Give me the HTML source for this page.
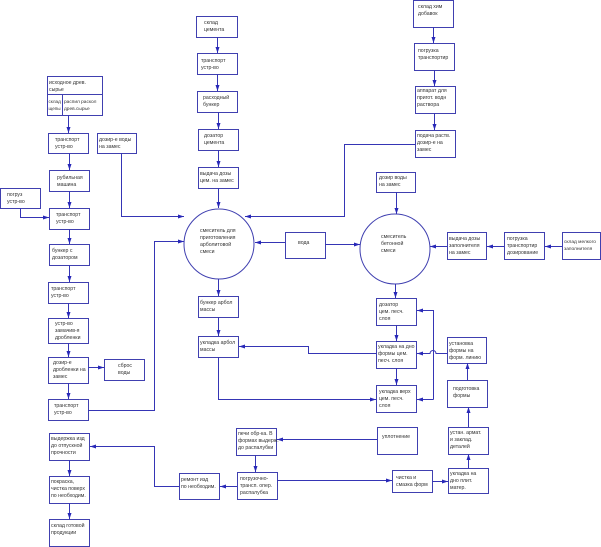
<!DOCTYPE html>
<html><head><meta charset="utf-8"><style>
html,body{margin:0;padding:0;background:#fff;}
svg{display:block;}
text{font-family:"Liberation Sans",sans-serif;font-size:5.2px;fill:#333;}
</style></head><body>
<svg width="601" height="547" viewBox="0 0 601 547" xmlns="http://www.w3.org/2000/svg">
<defs><marker id="a" markerWidth="6" markerHeight="4" refX="6" refY="2" orient="auto" markerUnits="userSpaceOnUse"><path d="M0,0 L6,2 L0,4 z" fill="#2828b8"/></marker></defs>
<g fill="none" stroke="#4040b0" stroke-width="1">
<rect x="196.5" y="16.5" width="41" height="21"/>
<rect x="197.5" y="53.5" width="40" height="21"/>
<rect x="197.5" y="91.5" width="40" height="21"/>
<rect x="198.5" y="129.5" width="40" height="21"/>
<rect x="198.5" y="167.5" width="40" height="21"/>
<rect x="47.5" y="76.5" width="55" height="39"/>
<line x1="47.5" y1="94.5" x2="102.5" y2="94.5"/>
<line x1="62.5" y1="94.5" x2="62.5" y2="115.5"/>
<rect x="48.5" y="133.5" width="40" height="20"/>
<rect x="97.5" y="133.5" width="39" height="20"/>
<rect x="49.5" y="170.5" width="40" height="21"/>
<rect x="0.5" y="188.5" width="40" height="20"/>
<rect x="49.5" y="208.5" width="40" height="21"/>
<rect x="49.5" y="244.5" width="40" height="21"/>
<rect x="48.5" y="282.5" width="40" height="21"/>
<rect x="48.5" y="318.5" width="40" height="25"/>
<rect x="48.5" y="357.5" width="40" height="26"/>
<rect x="104.5" y="359.5" width="40" height="21"/>
<rect x="48.5" y="399.5" width="40" height="21"/>
<rect x="49.5" y="433.5" width="40" height="27"/>
<rect x="49.5" y="476.5" width="40" height="27"/>
<rect x="49.5" y="519.5" width="40" height="27"/>
<rect x="179.5" y="473.5" width="40" height="26"/>
<rect x="237.5" y="472.5" width="40" height="27"/>
<rect x="236.5" y="428.5" width="40" height="27"/>
<circle cx="219" cy="244" r="35"/>
<rect x="285.5" y="232.5" width="40" height="26"/>
<circle cx="395" cy="249" r="35"/>
<rect x="376.5" y="172.5" width="39" height="20"/>
<rect x="447.5" y="232.5" width="39" height="27"/>
<rect x="504.5" y="232.5" width="40" height="27"/>
<rect x="562.5" y="232.5" width="38" height="27"/>
<rect x="198.5" y="296.5" width="40" height="21"/>
<rect x="198.5" y="336.5" width="40" height="21"/>
<rect x="376.5" y="298.5" width="40" height="27"/>
<rect x="376.5" y="341.5" width="40" height="27"/>
<rect x="447.5" y="337.5" width="39" height="26"/>
<rect x="376.5" y="385.5" width="40" height="27"/>
<rect x="447.5" y="380.5" width="40" height="27"/>
<rect x="377.5" y="427.5" width="40" height="27"/>
<rect x="448.5" y="427.5" width="40" height="27"/>
<rect x="392.5" y="470.5" width="40" height="22"/>
<rect x="448.5" y="468.5" width="40" height="25"/>
<rect x="413.5" y="0.5" width="40" height="27"/>
<rect x="414.5" y="43.5" width="40" height="27"/>
<rect x="415.5" y="86.5" width="40" height="27"/>
<rect x="415.5" y="130.5" width="40" height="27"/>
</g>
<g fill="none" stroke="#3535b5" stroke-width="1" marker-end="url(#a)">
<line x1="217.5" y1="37" x2="217.5" y2="53"/>
<line x1="217.5" y1="74" x2="217.5" y2="91"/>
<line x1="218.5" y1="112" x2="218.5" y2="129"/>
<line x1="218.5" y1="150" x2="218.5" y2="167"/>
<line x1="218.5" y1="188" x2="218.5" y2="208"/>
<polyline points="121.5,153 121.5,216.5 184,216.5"/>
<polyline points="415,144.5 344.5,144.5 344.5,216.5 245,216.5"/>
<line x1="285" y1="242.5" x2="255" y2="242.5"/>
<line x1="325" y1="244.5" x2="360" y2="244.5"/>
<polyline points="88,410.5 154.5,410.5 154.5,241.5 184,241.5"/>
<line x1="218.5" y1="279" x2="218.5" y2="296"/>
<line x1="218.5" y1="317" x2="218.5" y2="336"/>
<polyline points="218.5,357 218.5,399.5 376,399.5"/>
<polyline points="376,353.5 308.5,353.5 308.5,346.5 239,346.5"/>
<line x1="395.5" y1="284" x2="395.5" y2="298"/>
<line x1="396.5" y1="325" x2="396.5" y2="341"/>
<line x1="396.5" y1="368" x2="396.5" y2="385"/>
<line x1="396.5" y1="192" x2="396.5" y2="214"/>
<line x1="447" y1="246.5" x2="430" y2="246.5"/>
<line x1="504" y1="246.5" x2="487" y2="246.5"/>
<line x1="562" y1="246.5" x2="545" y2="246.5"/>
<path d="M447,353.5 L436,353.5 A3,3 0 0 0 430,353.5 L417,353.5"/>
<polyline points="433.5,399.5 433.5,310.5 417,310.5"/>
<line x1="433.5" y1="399.5" x2="417" y2="399.5"/>
<line x1="467.5" y1="380" x2="467.5" y2="363"/>
<line x1="468.5" y1="427" x2="468.5" y2="407"/>
<line x1="468.5" y1="468" x2="468.5" y2="454"/>
<line x1="432" y1="481.5" x2="448" y2="481.5"/>
<line x1="277" y1="480.5" x2="392" y2="480.5"/>
<line x1="377" y1="439.5" x2="277" y2="439.5"/>
<line x1="255.5" y1="455" x2="255.5" y2="472"/>
<line x1="237" y1="486.5" x2="220" y2="486.5"/>
<polyline points="179,486.5 154.5,486.5 154.5,446.5 90,446.5"/>
<line x1="69.5" y1="460" x2="69.5" y2="476"/>
<line x1="69.5" y1="503" x2="69.5" y2="519"/>
<line x1="68.5" y1="115" x2="68.5" y2="133"/>
<line x1="69.5" y1="153" x2="69.5" y2="170"/>
<line x1="69.5" y1="191" x2="69.5" y2="208"/>
<polyline points="20.5,208 20.5,217.5 49,217.5"/>
<line x1="69.5" y1="229" x2="69.5" y2="244"/>
<line x1="69.5" y1="265" x2="69.5" y2="282"/>
<line x1="68.5" y1="303" x2="68.5" y2="318"/>
<line x1="68.5" y1="343" x2="68.5" y2="357"/>
<line x1="88" y1="367.5" x2="104" y2="367.5"/>
<line x1="68.5" y1="383" x2="68.5" y2="399"/>
<line x1="433.5" y1="27" x2="433.5" y2="43"/>
<line x1="434.5" y1="70" x2="434.5" y2="86"/>
<line x1="434.5" y1="113" x2="434.5" y2="130"/>
</g>
<g>
<text x="204" y="24">склад</text><text x="204" y="31">цемента</text>
<text x="201" y="62">транспорт</text><text x="201" y="69">устр-во</text>
<text x="203" y="99">расходный</text><text x="203" y="106">бункер</text>
<text x="204" y="137">дозатор</text><text x="204" y="144">цемента</text>
<text x="200" y="175">выдача дозы</text><text x="200" y="182">цем. на замес</text>
<text x="49" y="84">исходное древ.</text><text x="49" y="91">сырье</text>
<text x="48.5" y="103" style="font-size:4.6px">склад</text><text x="48.5" y="110" style="font-size:4.6px">щепы</text>
<text x="64" y="103" style="font-size:4.8px">распил раскол</text><text x="64" y="110" style="font-size:4.8px">древ.сырье</text>
<text x="55" y="141">транспорт</text><text x="55" y="148">устр-во</text>
<text x="99" y="141">дозир-е воды</text><text x="99" y="148">на замес</text>
<text x="57" y="179">рубильная</text><text x="57" y="186">машина</text>
<text x="7" y="196">погруз</text><text x="7" y="203">устр-во</text>
<text x="56" y="216">транспорт</text><text x="56" y="223">устр-во</text>
<text x="52" y="252">бункер с</text><text x="52" y="259">дозатором</text>
<text x="51" y="290">транспорт</text><text x="51" y="297">устр-во</text>
<text x="55" y="325">устр-во</text><text x="55" y="332">замачив-я</text><text x="55" y="339">дробленки</text>
<text x="53" y="364">дозир-е</text><text x="53" y="371">дробленки на</text><text x="53" y="378">замес</text>
<text x="118" y="367">сброс</text><text x="118" y="374">воды</text>
<text x="54" y="407">транспорт</text><text x="54" y="414">устр-во</text>
<text x="51" y="440">выдержка изд</text><text x="51" y="447">до отпускной</text><text x="51" y="454">прочности</text>
<text x="51" y="483">покраска,</text><text x="51" y="490">чистка поверх</text><text x="51" y="497">по необходим.</text>
<text x="51" y="527">склад готовой</text><text x="51" y="534">продукции</text>
<text x="181" y="481">ремонт изд</text><text x="181" y="488">по необходим.</text>
<text x="240" y="480">погрузочно-</text><text x="240" y="487">трансп. опер.</text><text x="240" y="494">распалубка</text>
<text x="238" y="435">печи обр-ка. В</text><text x="238" y="442">формах выдерж.</text><text x="238" y="449">до распалубки</text>
<text x="200" y="232">смеситель для</text><text x="200" y="239">приготовления</text><text x="200" y="246">арболитовой</text><text x="200" y="253">смеси</text>
<text x="298" y="244">вода</text>
<text x="381" y="238">смеситель</text><text x="381" y="245">бетонной</text><text x="381" y="252">смеси</text>
<text x="379" y="179">дозир воды</text><text x="379" y="186">на замес</text>
<text x="449" y="240">выдача дозы</text><text x="449" y="247">заполнителя</text><text x="449" y="254">на замес</text>
<text x="507" y="240">погрузка</text><text x="507" y="247">транспортир</text><text x="507" y="254">дозирование</text>
<text x="564" y="243" style="font-size:4.8px">склад мелкого</text><text x="564" y="250" style="font-size:4.8px">заполнителя</text>
<text x="200" y="304">бункер арбол</text><text x="200" y="311">массы</text>
<text x="200" y="344">укладка арбол</text><text x="200" y="351">массы</text>
<text x="379" y="306">дозатор</text><text x="379" y="313">цем. песч.</text><text x="379" y="320">слоя</text>
<text x="378" y="348">укладка на дно</text><text x="378" y="355">формы цем.</text><text x="378" y="362">песч. слоя</text>
<text x="449" y="345">установка</text><text x="449" y="352">формы на</text><text x="449" y="359">форм. линию</text>
<text x="379" y="393">укладка верх</text><text x="379" y="400">цем. песч.</text><text x="379" y="407">слоя</text>
<text x="453" y="390">подготовка</text><text x="453" y="397">формы</text>
<text x="382" y="438">уплотнение</text>
<text x="450" y="434">устан. армат.</text><text x="450" y="441">и заклад.</text><text x="450" y="448">деталей</text>
<text x="396" y="479">чистка и</text><text x="396" y="486">смазка форм</text>
<text x="450" y="475">укладка на</text><text x="450" y="482">дно плит.</text><text x="450" y="489">матер.</text>
<text x="418" y="8">склад хим</text><text x="418" y="15">добавок</text>
<text x="418" y="52">погрузка</text><text x="418" y="59">транспортир</text>
<text x="417" y="92">аппарат для</text><text x="417" y="99">пригот. водн</text><text x="417" y="106">раствора</text>
<text x="417" y="137">подача раств.</text><text x="417" y="144">дозир-е на</text><text x="417" y="151">замес</text>
</g>
</svg>
</body></html>
